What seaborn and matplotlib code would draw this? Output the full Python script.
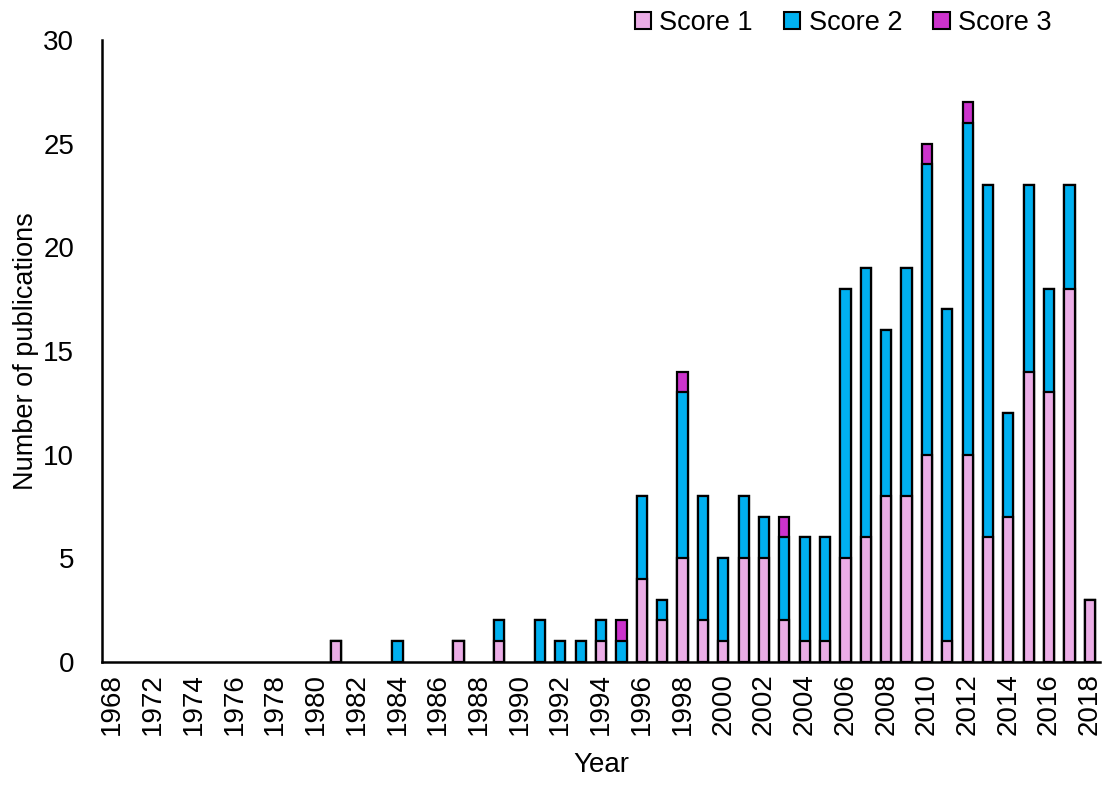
"""
Publications per year, stacked by score
"""

import matplotlib
matplotlib.use('Agg')
import matplotlib.pyplot as plt
from matplotlib.patches import Patch
import seaborn as sns
import pandas as pd

# category axis: 1968, 1970, then every year 1972-2018
years = ['1968', '1970'] + [str(y) for y in range(1972, 2019)]

# counts (years not listed are zero)
score1 = {1981: 1, 1987: 1, 1989: 1, 1994: 1, 1996: 4, 1997: 2, 1998: 5,
          1999: 2, 2000: 1, 2001: 5, 2002: 5, 2003: 2, 2004: 1, 2005: 1,
          2006: 5, 2007: 6, 2008: 8, 2009: 8, 2010: 10, 2011: 1, 2012: 10,
          2013: 6, 2014: 7, 2015: 14, 2016: 13, 2017: 18, 2018: 3}
score2 = {1984: 1, 1989: 1, 1991: 2, 1992: 1, 1993: 1, 1994: 1, 1995: 1,
          1996: 4, 1997: 1, 1998: 8, 1999: 6, 2000: 4, 2001: 3, 2002: 2,
          2003: 4, 2004: 5, 2005: 5, 2006: 13, 2007: 13, 2008: 8, 2009: 11,
          2010: 14, 2011: 16, 2012: 16, 2013: 17, 2014: 5, 2015: 9,
          2016: 5, 2017: 5}
score3 = {1995: 1, 1998: 1, 2003: 1, 2010: 1, 2012: 1}

colors = {'Score 1': '#EBADE6', 'Score 2': '#00B0F0', 'Score 3': '#CC33CC'}

df = pd.DataFrame({
    'year': years,
    's1': [score1.get(int(y), 0) for y in years],
    's2': [score2.get(int(y), 0) for y in years],
    's3': [score3.get(int(y), 0) for y in years],
})
df['s12'] = df['s1'] + df['s2']
df['total'] = df['s12'] + df['s3']

sns.set_style('white')
plt.rcParams['font.family'] = ['Liberation Sans', 'DejaVu Sans']
plt.rcParams['text.color'] = 'black'
plt.rcParams['axes.labelcolor'] = 'black'
plt.rcParams['xtick.color'] = 'black'
plt.rcParams['ytick.color'] = 'black'

fig = plt.figure(figsize=(11.1, 7.85), dpi=100)
ax = fig.add_axes([0.092, 0.157, 0.899, 0.792])

bar_kw = dict(order=years, width=0.5, edgecolor='black', linewidth=1.6, ax=ax)
# layered cumulative bars: top segment drawn first, covered by lower ones
sns.barplot(data=df, x='year', y='total', color=colors['Score 3'], **bar_kw)
sns.barplot(data=df, x='year', y='s12', color=colors['Score 2'], **bar_kw)
sns.barplot(data=df, x='year', y='s1', color=colors['Score 1'], **bar_kw)

# seaborn desaturates the colour argument; put the exact fills back
# and hide the outlines of empty bars
n = len(years)
for i, patch in enumerate(ax.patches):
    key = ['Score 3', 'Score 2', 'Score 1'][i // n]
    patch.set_facecolor(colors[key])
    if patch.get_height() == 0:
        patch.set_linewidth(0)

ax.set_xlim(-0.5, n - 0.5)
ax.set_ylim(0, 30)
ax.set_yticks(range(0, 31, 5))
ax.set_xticks(range(0, n, 2))
ax.set_xticklabels(years[::2], rotation=90)
ax.tick_params(axis='both', length=0, labelsize=20)
ax.tick_params(axis='y', pad=20)
ax.tick_params(axis='x', pad=8)

ax.set_xlabel('Year', fontsize=20, labelpad=12)
ax.set_ylabel('Number of publications', fontsize=19.5, labelpad=3)

for side in ['top', 'right']:
    ax.spines[side].set_visible(False)
for side in ['left', 'bottom']:
    ax.spines[side].set_color('black')
    ax.spines[side].set_linewidth(1.8)

handles = [Patch(facecolor=c, edgecolor='black', linewidth=1.5, label=k)
           for k, c in colors.items()]
ax.legend(handles=handles, ncol=3, frameon=False, fontsize=19.5,
          loc='center right', bbox_to_anchor=(0.962, 1.027),
          handlelength=0.6, handleheight=0.6, handletextpad=0.3,
          columnspacing=1.15, borderaxespad=0)

plt.savefig('out.png', dpi=100)
